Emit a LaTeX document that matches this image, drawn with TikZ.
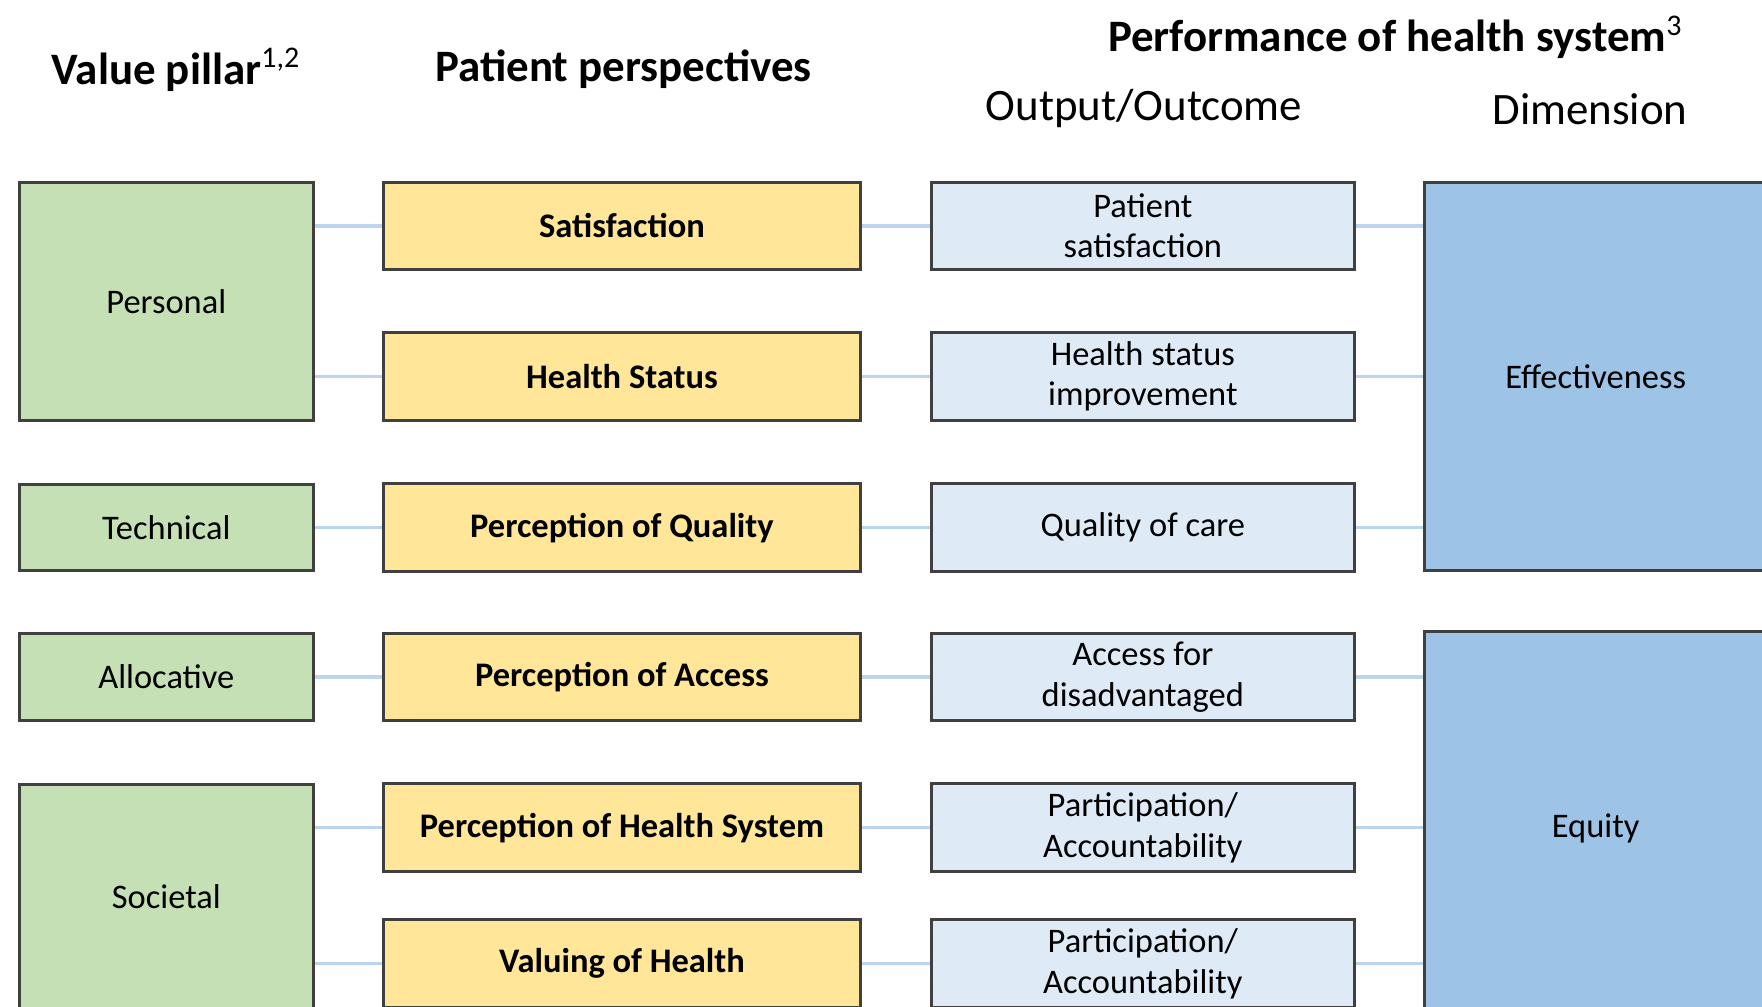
\documentclass[tikz,border=0pt]{standalone}
\usepackage{fontspec}
\setmainfont{Carlito}
\usetikzlibrary{calc}
\definecolor{hs@green}{RGB}{197,224,180}
\definecolor{hs@yellow}{RGB}{255,230,153}
\definecolor{hs@light}{RGB}{222,235,247}
\definecolor{hs@blue}{RGB}{157,195,230}
\definecolor{hs@edge}{RGB}{64,64,64}
\definecolor{hs@link}{RGB}{189,213,236}

\tikzset{
  box/.style={draw=hs@edge, line width=0.8pt, inner sep=0pt, align=center,
    font=\fontsize{9.2}{10.8}\selectfont},
  pillar/.style={box, fill=hs@green, minimum width=78.6pt},
  view/.style={box, fill=hs@yellow, font=\fontsize{9.2}{10.8}\selectfont\bfseries,
    minimum width=127.5pt, minimum height=23.4pt},
  outcome/.style={box, fill=hs@light, minimum width=112.8pt, minimum height=23.4pt},
  dimension/.style={box, fill=hs@blue, minimum width=91.2pt},
  link/.style={hs@link, line width=0.9pt},
  head/.style={font=\fontsize{12}{14}\selectfont\bfseries},
  subhead/.style={font=\fontsize{12}{14}\selectfont},
}

\begin{document}
\begin{tikzpicture}[x=0.3pt, y=-0.3pt]

\useasboundingbox (0,0) rectangle (1568,896);
\clip (0,0) rectangle (1568,896);

\begin{scope}
  \node[head] (h-pillar) at (157,62) {Value pillar\textsuperscript{\mdseries 1,2}};

  % Personal
  \node[pillar, minimum height=63.6pt] (personal) at (148,268) {Personal};
  % Technical
  \node[pillar, minimum height=23.1pt] (technical) at (148,469.5) {Technical};
  % Allocative
  \node[pillar, minimum height=23.1pt] (allocative) at (148,602.5) {Allocative};
  % Societal
  \node[pillar, minimum height=60pt] (societal) at (148,798) {Societal};
\end{scope}

\begin{scope}
  \node[head] (h-view) at (555,62) {Patient perspectives};

  \node[view] (satisf) at (553.5,201) {Satisfaction};
  \node[view] (status) at (553.5,335) {Health Status};
  \node[view] (quality) at (553.5,469.5) {Perception of Quality};
  \node[view] (access) at (553.5,602.5) {Perception of Access};
  \node[view] (system) at (553.5,736.5) {Perception of Health System};
  \node[view] (valuing) at (553.5,857.5) {Valuing of Health};
\end{scope}

\begin{scope}
  \node[head] (h-perf) at (1242,33) {Performance of health system\textsuperscript{\mdseries 3}};
  \node[subhead] (h-outcome) at (1018,97) {Output/Outcome};

  \node[outcome] (o-satisf) at (1017,201) {Patient\\satisfaction};
  \node[outcome] (o-status) at (1017,335) {Health status\\improvement};
  \node[outcome] (o-quality) at (1017,469.5) {Quality of care};
  \node[outcome] (o-access) at (1017,602.5) {Access for\\disadvantaged};
  \node[outcome] (o-system) at (1017,736.5) {Participation/\\Accountability};
  \node[outcome] (o-valuing) at (1017,857.5) {Participation/\\Accountability};
\end{scope}

\begin{scope}
  \node[subhead] (h-dim) at (1415,97) {Dimension};

  % Effectiveness
  \node[dimension, minimum height=103.8pt] (effect) at (1420,335) {Effectiveness};
  % Equity
  \node[dimension, minimum height=105pt] (equity) at (1420,737) {Equity};
\end{scope}

% pillar -> perspective
\draw[link] (personal.east |- satisf.west) -- (satisf.west);
\draw[link] (personal.east |- status.west) -- (status.west);
\draw[link] (technical.east) -- (quality.west);
\draw[link] (allocative.east) -- (access.west);
\draw[link] (societal.east |- system.west) -- (system.west);
\draw[link] (societal.east |- valuing.west) -- (valuing.west);

% perspective -> outcome
\foreach \n in {satisf, status, quality, access, system, valuing}
  \draw[link] (\n.east) -- (o-\n.west);

% outcome -> dimension
\foreach \n in {satisf, status, quality}
  \draw[link] (o-\n.east) -- (o-\n.east -| effect.west);
\foreach \n in {access, system, valuing}
  \draw[link] (o-\n.east) -- (o-\n.east -| equity.west);

\end{tikzpicture}
\end{document}
